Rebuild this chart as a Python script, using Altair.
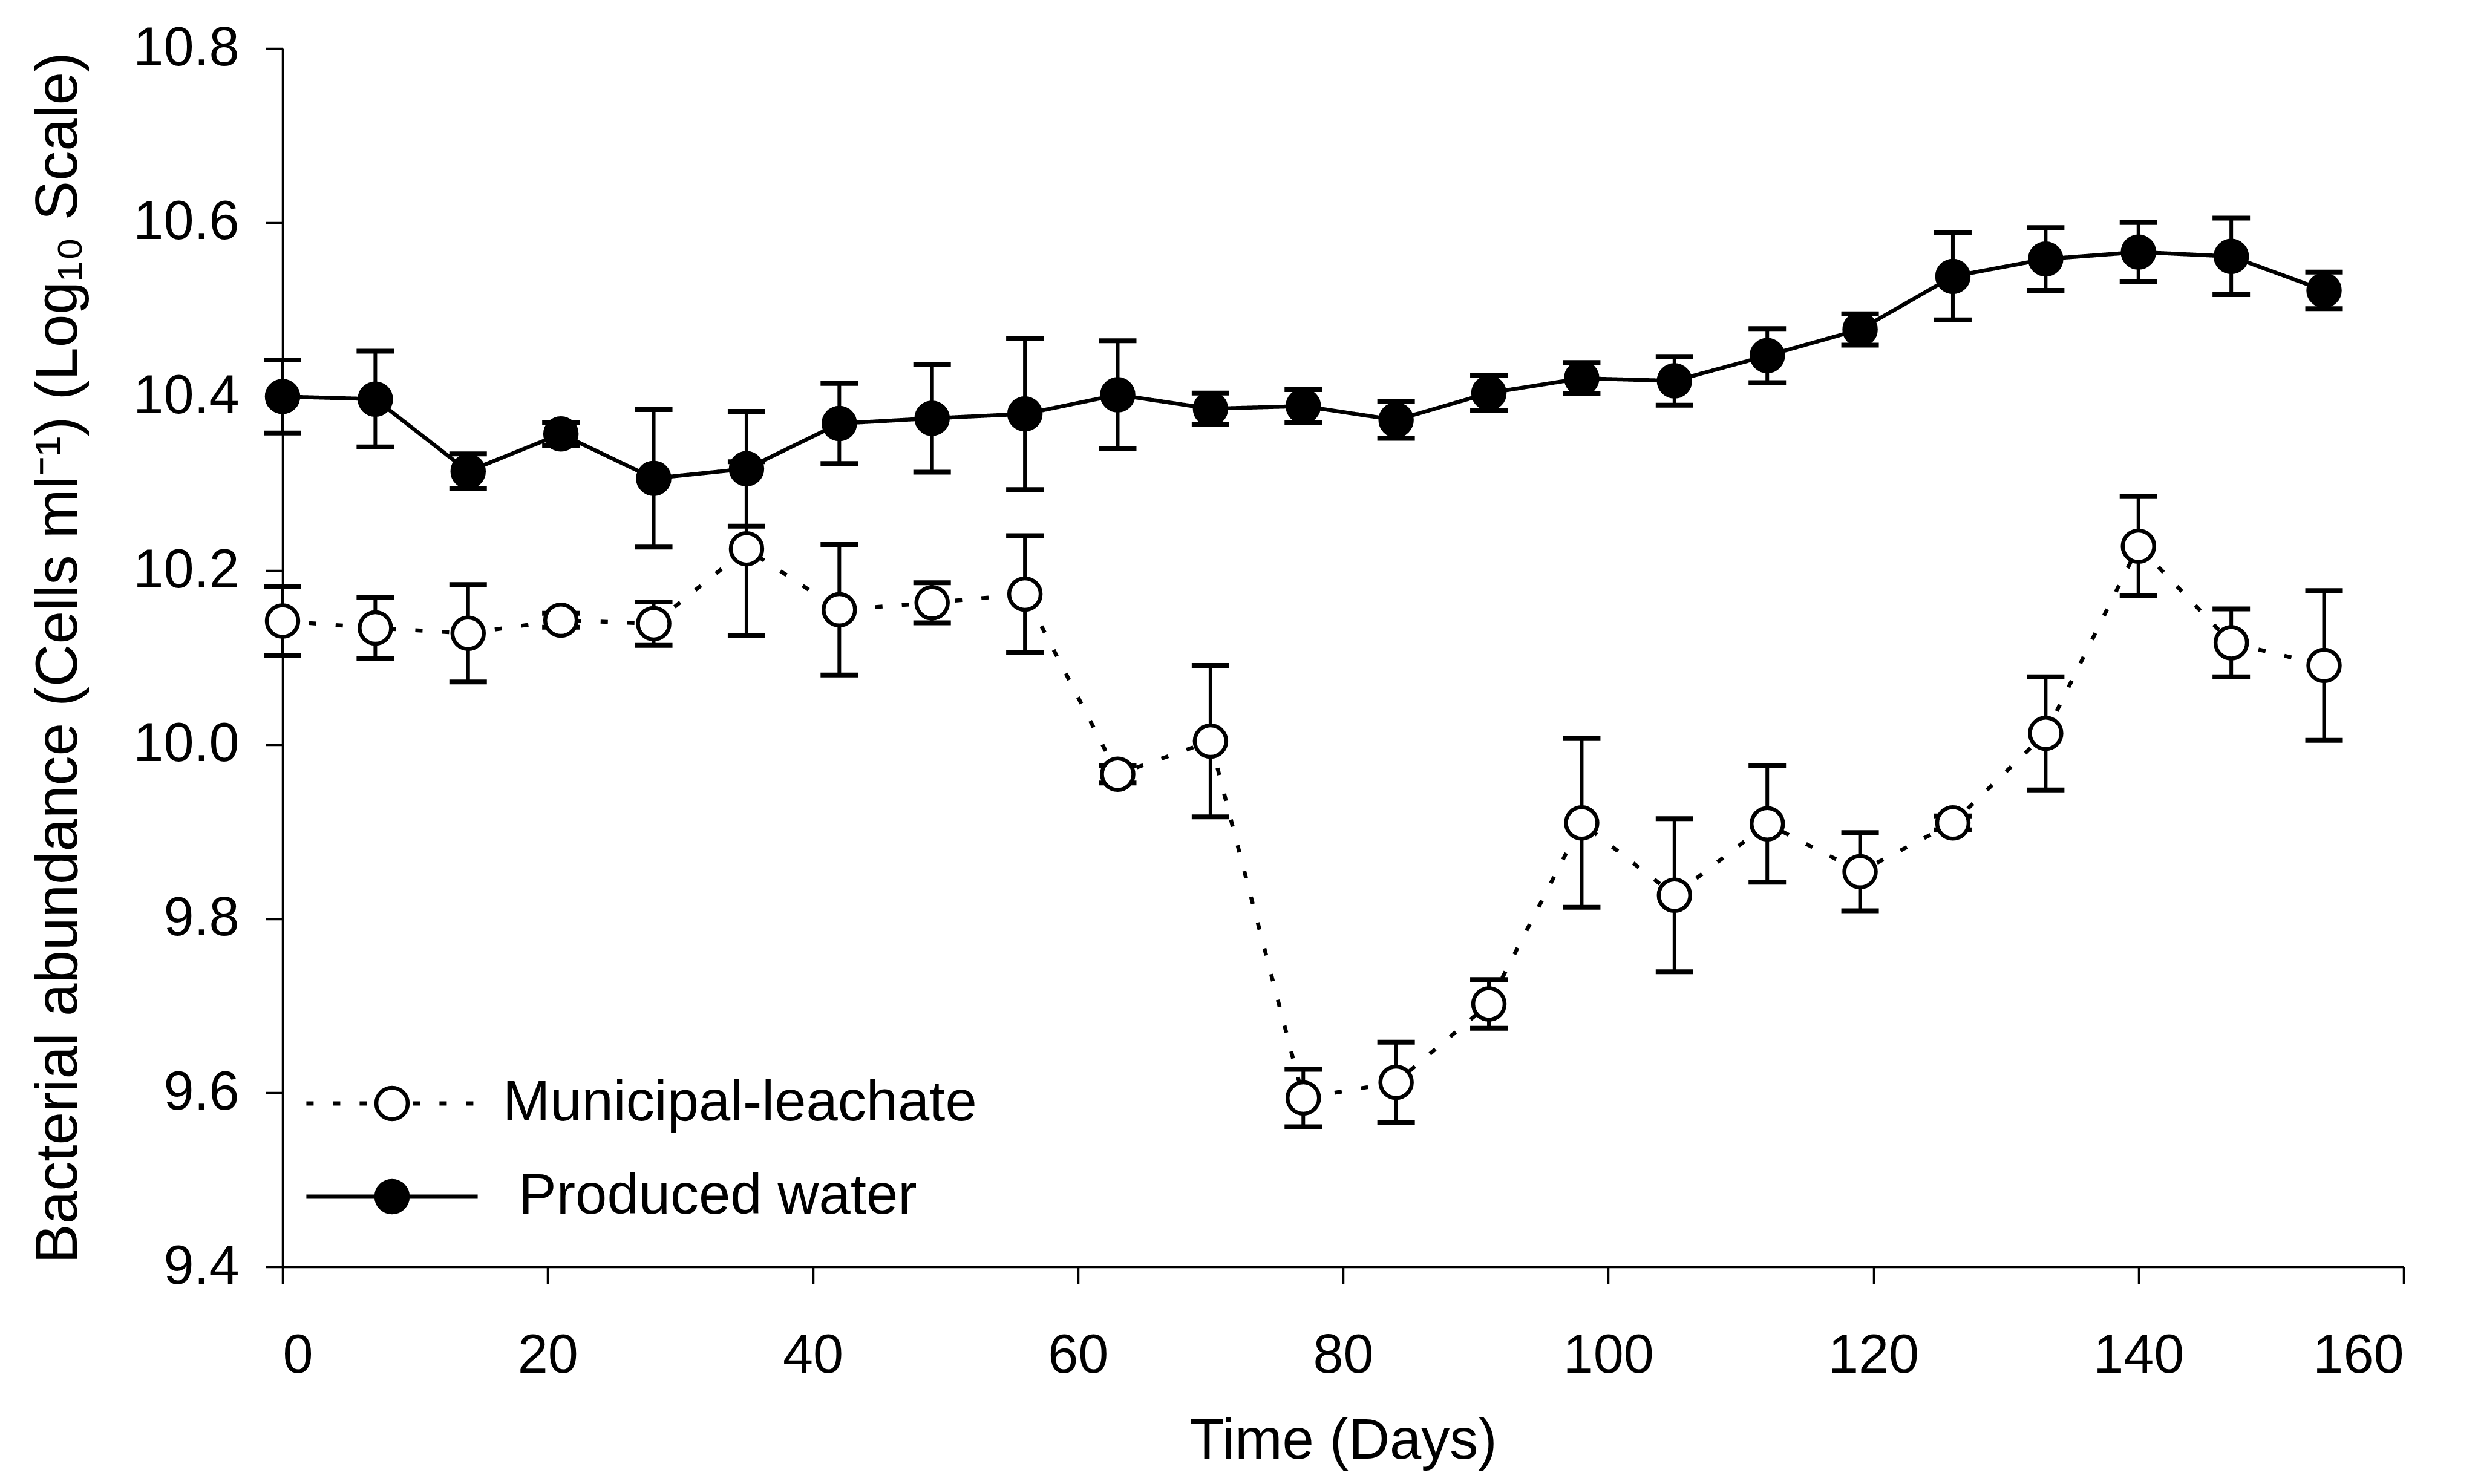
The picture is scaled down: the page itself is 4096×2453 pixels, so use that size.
import altair as alt
import pandas as pd

# ---- data ----
days = [0, 7, 14, 21, 28, 35, 42, 49, 56, 63, 70, 77, 84, 91, 98, 105, 112, 119, 126, 133, 140, 147, 154]

municipal_mean = [10.142, 10.134, 10.128, 10.143, 10.139, 10.225, 10.155, 10.163, 10.173, 9.966, 10.004, 9.594,
                  9.612, 9.702, 9.910, 9.827, 9.909, 9.854, 9.910, 10.013, 10.228, 10.117, 10.091]
municipal_sd = [0.040, 0.035, 0.056, 0.008, 0.025, 0.100, 0.075, 0.023, 0.067, 0.010, 0.087, 0.033,
                0.046, 0.028, 0.097, 0.088, 0.067, 0.045, 0.008, 0.065, 0.057, 0.039, 0.086]

produced_mean = [10.400, 10.397, 10.314, 10.357, 10.306, 10.317, 10.369, 10.375, 10.380, 10.402, 10.386, 10.389,
                 10.373, 10.404, 10.421, 10.418, 10.447, 10.477, 10.538, 10.558, 10.566, 10.561, 10.522]
produced_sd = [0.042, 0.055, 0.020, 0.013, 0.079, 0.066, 0.046, 0.062, 0.087, 0.062, 0.018, 0.019,
               0.021, 0.020, 0.018, 0.028, 0.031, 0.018, 0.050, 0.036, 0.034, 0.044, 0.021]

series_names = ["Municipal-leachate", "Produced water"]
x_ticks = [0, 20, 40, 60, 80, 100, 120, 140, 160]
y_ticks = [9.4, 9.6, 9.8, 10.0, 10.2, 10.4, 10.6, 10.8]

rows = []
for name, means, sds in ((series_names[0], municipal_mean, municipal_sd),
                         (series_names[1], produced_mean, produced_sd)):
    for d, m, s in zip(days, means, sds):
        rows.append({"day": d, "mean": m, "lo": m - s, "hi": m + s, "series": name, "marker": name})
df = pd.DataFrame(rows)

FONT = "Liberation Sans"
Y_TITLE = "Bacterial abundance (Cells ml\u207b\u00b9) (Log\u2081\u2080 Scale)"

x_scale = alt.Scale(domain=[0, 160], nice=False, zero=False)
y_scale = alt.Scale(domain=[9.4, 10.8], nice=False, zero=False)
x_axis = alt.Axis(values=x_ticks, format="d", title="Time (Days)")
y_axis = alt.Axis(values=y_ticks, format=".1f", title=Y_TITLE)


def X():
    return alt.X("day:Q", scale=x_scale, axis=x_axis)


def Y(field):
    return alt.Y(f"{field}:Q", scale=y_scale, axis=y_axis)


base = alt.Chart(df)

err = base.mark_rule(color="black", strokeWidth=6).encode(x=X(), y=Y("lo"), y2="hi:Q")
cap_lo = base.mark_tick(orient="horizontal", size=62, thickness=8, color="black", opacity=1).encode(x=X(), y=Y("lo"))
cap_hi = base.mark_tick(orient="horizontal", size=62, thickness=8, color="black", opacity=1).encode(x=X(), y=Y("hi"))

LEG_X = 134
LEG_Y = 1697
LEG_COMMON = dict(title=None, orient="none", legendX=LEG_X, legendY=LEG_Y, padding=0,
                  symbolSize=2700, labelFont=FONT, labelFontSize=94, labelColor="black",
                  labelOffset=136, rowPadding=60, labelLimit=3000)

line = base.mark_line(color="black", strokeWidth=6.5, strokeCap="butt").encode(
    x=X(), y=Y("mean"),
    strokeDash=alt.StrokeDash(
        "series:N",
        scale=alt.Scale(domain=series_names, range=[[12, 32], [1, 0]]),
        legend=alt.Legend(symbolType="M-5.45,0L5.45,0", symbolStrokeColor="black", symbolStrokeWidth=7,
                          labelExpr="indexof(datum.label, 'Produced') >= 0 ? '\u200b\u00a0' + datum.label : datum.label",
                          **LEG_COMMON),
    ),
)

points = base.mark_point(shape="circle", filled=True, size=2700, stroke="black", strokeWidth=6.5,
                         opacity=1).encode(
    x=X(), y=Y("mean"),
    fill=alt.Fill(
        "marker:N",
        scale=alt.Scale(range=["white", "black"]),
        legend=alt.Legend(symbolType="circle", symbolStrokeColor="black", symbolStrokeWidth=6.5,
                          labelOpacity=0, labelExpr="''", **LEG_COMMON),
    ),
)

chart = alt.layer(err, cap_lo, cap_hi, line, points).properties(
    width=3506,
    height=2014,
    autosize=alt.AutoSizeParams(type="none"),
    padding={"left": 467, "top": 80, "right": 123, "bottom": 359},
    background="white",
).configure_view(stroke=None).configure_axis(
    grid=False,
    domainColor="black",
    domainWidth=3.5,
    tickColor="black",
    tickWidth=3.5,
    tickSize=28,
    labelFont=FONT,
    labelFontSize=90,
    labelColor="black",
    titleFont=FONT,
    titleFontSize=94,
    titleFontWeight="normal",
    titleColor="black",
).configure_axisX(labelPadding=75, titlePadding=50).configure_axisY(
    labelPadding=44, titlePadding=120, titleFontSize=98)

chart.save("out.html", embed_options={"renderer": "svg", "actions": False})
